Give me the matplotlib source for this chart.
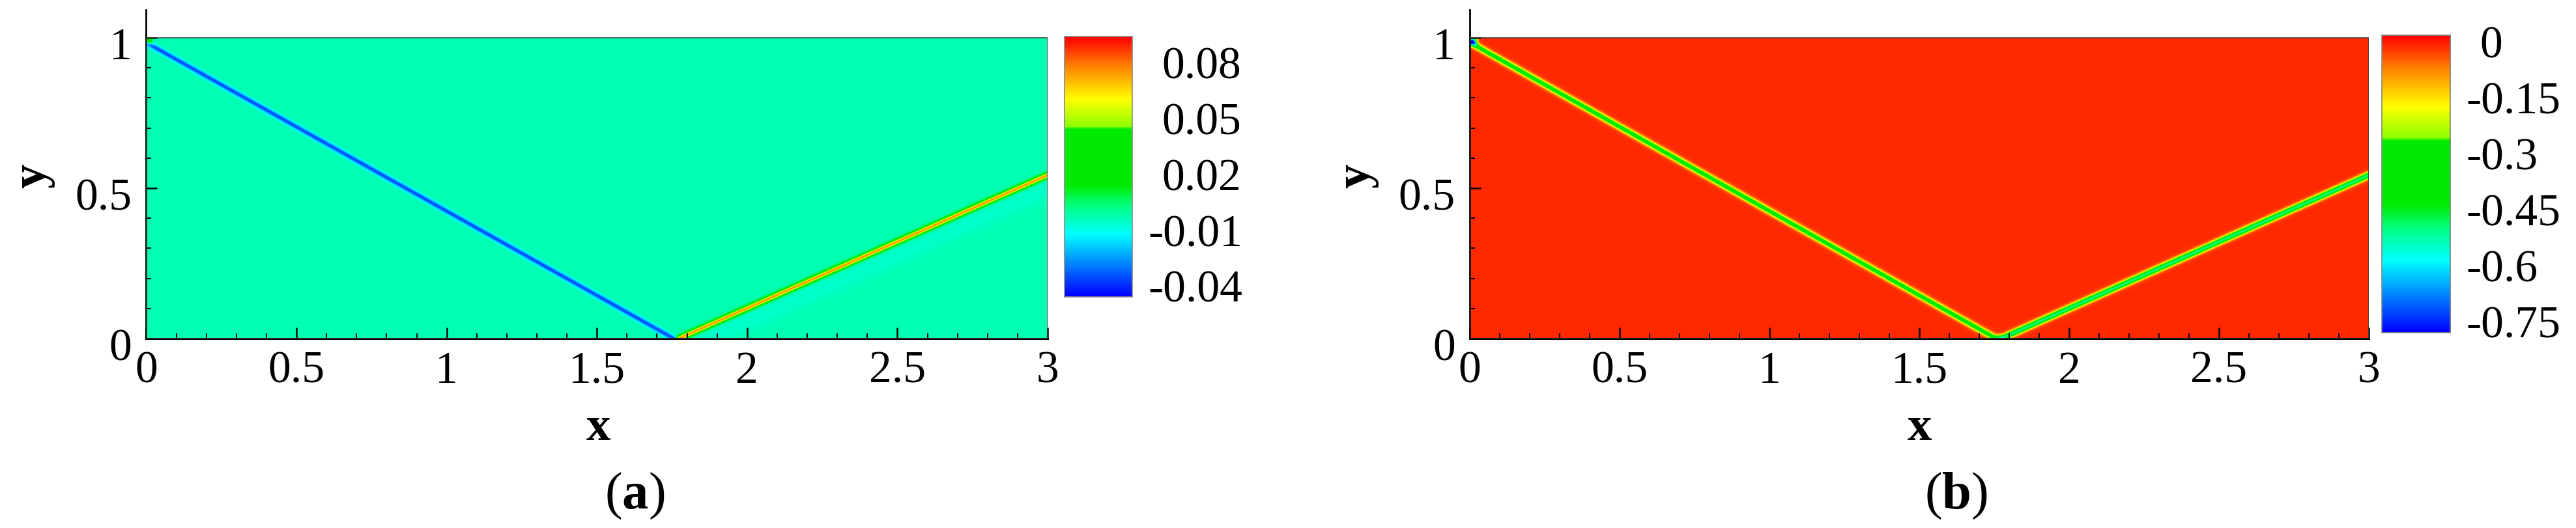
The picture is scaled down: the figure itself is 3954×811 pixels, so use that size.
import numpy as np
import matplotlib.pyplot as plt
import matplotlib.transforms as mtransforms
from matplotlib.colors import LinearSegmentedColormap
from matplotlib.patches import Rectangle

plt.rcParams['font.family'] = ['Liberation Serif', 'DejaVu Serif']
plt.rcParams['mathtext.fontset'] = 'custom'
plt.rcParams['mathtext.rm'] = 'Liberation Serif'
plt.rcParams['mathtext.bf'] = 'Liberation Serif:bold'

# domain
x_range = [0.0, 3.0]
y_range = [0.0, 1.0]

# shock geometry
incident_start = [0.0, 0.985]
incident_end = [1.755, 0.0]
reflected_start = [1.775, 0.0]
reflected_end = [3.0, 0.543]
foot_point = [1.765, 0.0]
corner_point = [0.01, 0.99]

# panel (a): field levels
a_background = 0.0
a_incident_peak = -0.033
a_reflected_peak = 0.080
a_wake_dip = -0.003
a_corner_peak = 0.04
a_cbar_range = [-0.0431, 0.0968]
a_cbar_ticks = [0.08, 0.05, 0.02, -0.01, -0.04]
a_cbar_labels = ['0.08', '0.05', '0.02', '-0.01', '-0.04']

# panel (b): field levels
b_background = 0.0
b_incident_peak = -0.37
b_reflected_peak = -0.50
b_foot_peak = -0.68
b_corner_peak = -0.62
b_cbar_range = [-0.766, 0.031]
b_cbar_ticks = [0, -0.15, -0.3, -0.45, -0.6, -0.75]
b_cbar_labels = ['0', '-0.15', '-0.3', '-0.45', '-0.6', '-0.75']

x_ticks = [0, 0.5, 1, 1.5, 2, 2.5, 3]
x_ticklabels = ['0', '0.5', '1', '1.5', '2', '2.5', '3']
y_ticks = [0, 0.5, 1]
y_ticklabels = ['0', '0.5', '1']

# tecplot-like rainbow
cmap = LinearSegmentedColormap.from_list('tec', [
    (0.00, (0.0, 0.0, 1.0)),
    (0.12, (0.0, 0.5, 1.0)),
    (0.24, (0.0, 1.0, 1.0)),
    (0.35, (0.0, 1.0, 0.5)),
    (0.43, (0.0, 0.92, 0.0)),
    (0.645, (0.0, 0.92, 0.0)),
    (0.655, (0.55, 1.0, 0.0)),
    (0.76, (1.0, 1.0, 0.0)),
    (0.89, (1.0, 0.5, 0.0)),
    (1.00, (1.0, 0.0, 0.0)),
])

xg = np.linspace(x_range[0], x_range[1], 1800)
yg = np.linspace(y_range[0], y_range[1], 600)
X, Y = np.meshgrid(xg, yg)


def seg_dist(p0, p1):
    p0 = np.array(p0); p1 = np.array(p1)
    d = p1 - p0
    t = ((X - p0[0]) * d[0] + (Y - p0[1]) * d[1]) / (d @ d)
    t = np.clip(t, 0, 1)
    dx = X - (p0[0] + t * d[0])
    dy = Y - (p0[1] + t * d[1])
    # signed side: positive below the line
    side = np.sign((X - p0[0]) * d[1] - (Y - p0[1]) * d[0])
    return np.hypot(dx, dy), side


d_inc, s_inc = seg_dist(incident_start, incident_end)
d_ref, s_ref = seg_dist(reflected_start, reflected_end)
d_foot = np.hypot(X - foot_point[0], Y - foot_point[1])
d_corner = np.maximum(np.abs(X - corner_point[0]), np.abs(Y - corner_point[1]))

field_a = (a_background
           + a_incident_peak * np.exp(-(d_inc / 0.009) ** 2)
           + a_reflected_peak * np.exp(-(d_ref / 0.009) ** 2)
           + a_wake_dip * np.exp(-((d_ref - 0.04) / 0.04) ** 2) * (s_ref > 0)
           + a_corner_peak * np.exp(-(d_corner / 0.01) ** 2))

field_b = (b_background
           + b_incident_peak * np.exp(-(d_inc / 0.010) ** 2)
           + b_reflected_peak * np.exp(-(d_ref / 0.010) ** 2)
           + (b_foot_peak - b_reflected_peak) * np.exp(-(d_foot / 0.012) ** 2)
           + b_corner_peak * np.exp(-(d_corner / 0.012) ** 2))

W, H = 3955, 811
fig = plt.figure(figsize=(W / 100, H / 100), dpi=100)

# pixel layout measured on the reference
y_top_px, y0_px, y1_px = 15, 520, 58
ymax = 1 + (y1_px - y_top_px) / (y0_px - y1_px)
ax_bottom = 1 - y0_px / H
ax_height = (y0_px - y_top_px) / H

panels = [
    dict(field=field_a, crange=a_cbar_range, cticks=a_cbar_ticks,
         clabels=a_cbar_labels, tag='a', x0=224.5, x3=1608,
         cb=(1634, 1738, 56, 456), xlab=918, taglab=974),
    dict(field=field_b, crange=b_cbar_range, cticks=b_cbar_ticks,
         clabels=b_cbar_labels, tag='b', x0=2256, x3=3636,
         cb=(3656, 3761, 54, 511), xlab=2946, taglab=3002),
]

for p in panels:
    ax = fig.add_axes([p['x0'] / W, ax_bottom, (p['x3'] - p['x0']) / W, ax_height])
    ax.imshow(p['field'], origin='lower', extent=[0, 3, 0, 1], cmap=cmap,
              vmin=p['crange'][0], vmax=p['crange'][1], aspect='auto',
              interpolation='bilinear')
    ax.add_patch(Rectangle((0, 0), 3, 1, fill=False, ec='#444444', lw=1.2, zorder=3))
    ax.set_xlim(0, 3)
    ax.set_ylim(0, ymax)
    ax.spines['top'].set_visible(False)
    ax.spines['right'].set_visible(False)
    ax.spines['left'].set_linewidth(2)
    ax.spines['bottom'].set_linewidth(2.2)
    ax.set_xticks(x_ticks, x_ticklabels)
    ax.set_yticks(y_ticks, y_ticklabels)
    ax.set_xticks(np.arange(0, 3.01, 0.1), minor=True)
    ax.set_yticks(np.arange(0, 1.01, 0.1), minor=True)
    ax.tick_params(which='major', direction='in', length=12, width=1.8,
                   labelsize=50)
    ax.tick_params(axis='x', which='major', pad=14)
    ax.tick_params(axis='y', which='major', pad=16)
    ax.tick_params(which='minor', direction='in', length=6, width=1.4)
    shift = mtransforms.ScaledTranslation(0, -9 / 100, fig.dpi_scale_trans)
    for lab in ax.get_yticklabels():
        lab.set_transform(lab.get_transform() + shift)

    # axis titles
    fig.text(p['xlab'] / W, 1 - 658 / H, 'x', ha='center', va='center',
             fontsize=54, fontweight='bold')
    fig.text((p['x0'] - 174) / W, 1 - 270 / H, 'y', ha='center', va='center',
             rotation=90, fontsize=54, fontweight='bold')
    fig.text(p['taglab'] / W, 1 - 762 / H, '($\\mathbf{' + p['tag'] + '}$)',
             ha='center', va='center', fontsize=58)

    # colour bar
    cl, cr, ct, cbm = p['cb']
    cax = fig.add_axes([cl / W, 1 - cbm / H, (cr - cl) / W, (cbm - ct) / H])
    lo, hi = p['crange']
    grad = np.linspace(lo, hi, 400).reshape(-1, 1)
    cax.imshow(grad, origin='lower', aspect='auto', cmap=cmap,
               extent=[0, 1, lo, hi], vmin=lo, vmax=hi)
    cax.set_xlim(0, 1)
    cax.set_ylim(lo, hi)
    cax.set_xticks([])
    cax.set_yticks([])
    for sp in cax.spines.values():
        sp.set_color('#888888')
        sp.set_linewidth(1.2)
    for v, lab in zip(p['cticks'], p['clabels']):
        gap_px = 24 if lab.startswith('-') else 45
        tr = mtransforms.offset_copy(cax.get_yaxis_transform(), fig=fig,
                                     x=gap_px, y=0, units='dots')
        cax.text(1.0, v, lab, ha='left', va='center', fontsize=50, transform=tr)

fig.savefig('out.png', dpi=100)
